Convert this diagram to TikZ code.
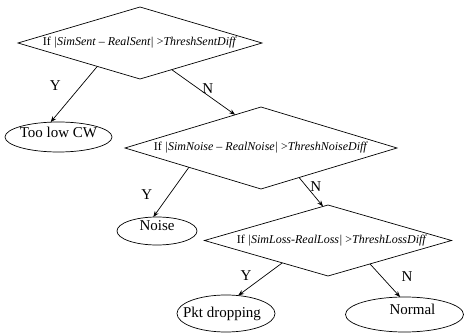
\documentclass[tikz,border=0pt]{standalone}
\usepackage{fontspec}
\setmainfont{Liberation Serif}
\usetikzlibrary{shapes.geometric,arrows.meta,calc}
\begin{document}
\begin{tikzpicture}[x=1pt,y=-1pt,line width=0.7pt,
    >={Stealth[length=6pt,width=4.5pt]},
    test/.style={diamond,draw,inner sep=0pt,outer sep=0pt},
    ttext/.style={font=\fontsize{12}{14}\selectfont,inner sep=0pt},
    result/.style={ellipse,draw,inner sep=0pt,outer sep=0pt},
    rtext/.style={font=\fontsize{15}{18}\selectfont,inner sep=0pt},
    lbl/.style={font=\fontsize{15}{18}\selectfont,inner sep=0pt}]
                \useasboundingbox (0,0) rectangle (464,334);
                \path (140,43) node[test,minimum width=244pt,minimum height=72pt,
                  label={[ttext]center:If \textit{|SimSent -- RealSent|} >\textit{ThreshSentDiff}}] (D1) {};
                \path (58.5,137) node[result,minimum width=107pt,minimum height=30pt,
                  label={[rtext,yshift=5pt]center:Too low CW}] (L) {};
                \path (261,148) node[test,minimum width=272pt,minimum height=82pt,
                  label={[ttext]center:If \textit{|SimNoise -- RealNoise|} >\textit{ThreshNoiseDiff}}] (D2) {};
                \path (157,231) node[result,minimum width=80pt,minimum height=28pt,
                  label={[rtext,yshift=5pt]center:Noise}] (Z) {};
                \path (328,240.5) node[test,minimum width=247pt,minimum height=71pt,
                  label={[ttext,xshift=4pt]center:If \textit{|SimLoss-RealLoss|} >\textit{ThreshLossDiff}}] (D3) {};
                \path (226,313.5) node[result,minimum width=98pt,minimum height=37pt,
                  label={[rtext,xshift=-4pt]center:Pkt dropping}] (P) {};
                \path (404.5,314.5) node[result,minimum width=118pt,minimum height=35pt,
                  label={[rtext,xshift=8pt,yshift=5pt]center:Normal}] (M) {};

                % where the edges leave and enter the diamonds
                \coordinate (D1y) at ($(D1.west)!0.65!(D1.south)$);
                \coordinate (D1n) at ($(D1.south)!0.26!(D1.east)$);
                \coordinate (D2in) at ($(D2.west)!0.81!(D2.north)$);
                \coordinate (D2y) at ($(D2.west)!0.47!(D2.south)$);
                \coordinate (D2n) at ($(D2.south)!0.28!(D2.east)$);
                \coordinate (D3in) at ($(D3.west)!0.96!(D3.north)$);
                \coordinate (D3y) at ($(D3.west)!0.63!(D3.south)$);
                \coordinate (D3n) at ($(D3.south)!0.34!(D3.east)$);

                \begin{scope}[every node/.append style={lbl}]
                  \draw[->] (D1y) -- node[pos=0.35,left=20pt]{Y} (L.118);
                  \draw[->] (D1n) -- node[pos=0.57,yshift=7pt]{N} (D2in);
                  \draw[->] (D2y) -- node[pos=0.54,left=17pt]{Y} (Z.105);
                  \draw[->] (D2n) -- node[pos=0.33,right=3pt]{N} (D3in);
                  \draw[->] (D3y) -- node[pos=0.375,left=14pt]{Y} (P.56);
                  \draw[->] (D3n) -- node[pos=0.375,right=20pt]{N} (M.104);
                \end{scope}
              \end{tikzpicture}
\end{document}
